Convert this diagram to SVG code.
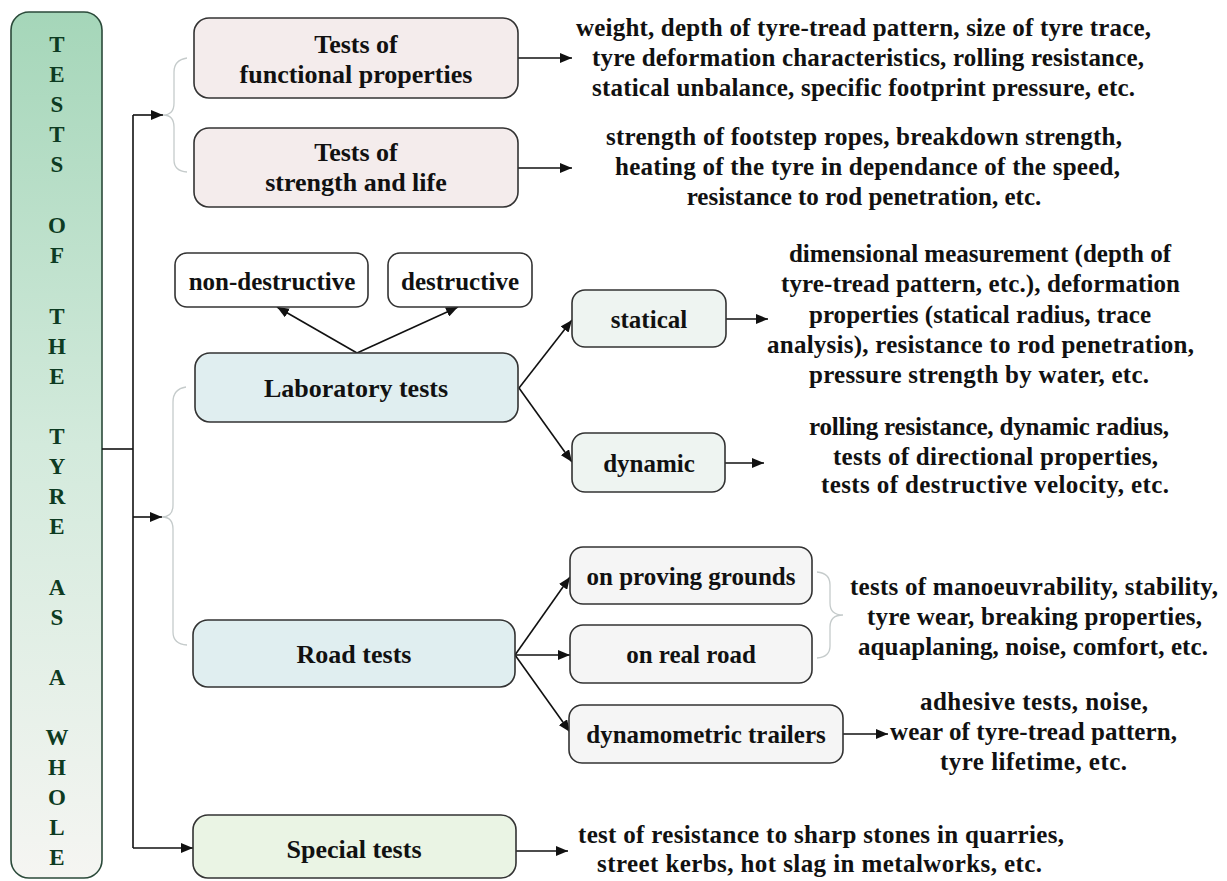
<svg xmlns="http://www.w3.org/2000/svg" width="1227" height="881" viewBox="0 0 1227 881">
<style>
text{font-family:"Liberation Serif","Times New Roman",serif;font-weight:bold;fill:#111}
.lbl{font-size:26px;text-anchor:middle}
.sm{font-size:25px;text-anchor:middle}
.txt{font-size:25px}
.txtm{font-size:25px;text-anchor:middle}
.vt{font-size:23px;text-anchor:middle;fill:#0d3b22}
.box{stroke:#333;stroke-width:1.6}
.pink{fill:#f4ecec}
.blue{fill:#e0eef0}
.green{fill:#eaf4e4}
.mint{fill:#eef4f1}
.grey{fill:#f5f5f5}
.white{fill:#ffffff}
.con{fill:none;stroke:#111;stroke-width:1.6}
.brace{fill:none;stroke:#c5cbcb;stroke-width:1.3}
</style>
<defs>
<linearGradient id="gMain" x1="0" y1="0" x2="0" y2="1">
<stop offset="0" stop-color="#a5d6b9"/>
<stop offset="0.5" stop-color="#d3eadc"/>
<stop offset="1" stop-color="#f5f5f2"/>
</linearGradient>
<marker id="arr" markerWidth="12" markerHeight="10" refX="12" refY="5" orient="auto" markerUnits="userSpaceOnUse">
<path d="M0,0 L12,5 L0,10 z" fill="#111"/>
</marker>
</defs>

<g id="main">
<rect x="11" y="12" width="91" height="866" rx="18" fill="url(#gMain)" stroke="#2b4a3a" stroke-width="1.6"/>
<text class="vt" x="57" y="52">T</text>
<text class="vt" x="57" y="82">E</text>
<text class="vt" x="57" y="112">S</text>
<text class="vt" x="57" y="142">T</text>
<text class="vt" x="57" y="172">S</text>
<text class="vt" x="57" y="233">O</text>
<text class="vt" x="57" y="263">F</text>
<text class="vt" x="57" y="324">T</text>
<text class="vt" x="57" y="354">H</text>
<text class="vt" x="57" y="384">E</text>
<text class="vt" x="57" y="444">T</text>
<text class="vt" x="57" y="474">Y</text>
<text class="vt" x="57" y="504">R</text>
<text class="vt" x="57" y="534">E</text>
<text class="vt" x="57" y="595">A</text>
<text class="vt" x="57" y="625">S</text>
<text class="vt" x="57" y="685">A</text>
<text class="vt" x="57" y="745">W</text>
<text class="vt" x="57" y="775">H</text>
<text class="vt" x="57" y="805">O</text>
<text class="vt" x="57" y="835">L</text>
<text class="vt" x="57" y="865">E</text>
</g>

<g id="connectors">
<path class="con" d="M102,449 H133"/>
<path class="con" d="M133,115 V848"/>
<path class="con" d="M133,115 H163" marker-end="url(#arr)"/>
<path class="con" d="M133,517 H162" marker-end="url(#arr)"/>
<path class="con" d="M133,848 H193" marker-end="url(#arr)"/>
<path class="con" d="M518,58 H572" marker-end="url(#arr)"/>
<path class="con" d="M518,168 H572" marker-end="url(#arr)"/>
<path class="con" d="M357,353 L277,307" marker-end="url(#arr)"/>
<path class="con" d="M357,353 L458,307" marker-end="url(#arr)"/>
<path class="con" d="M519,388 L572,320" marker-end="url(#arr)"/>
<path class="con" d="M519,388 L572,462" marker-end="url(#arr)"/>
<path class="con" d="M726,319 H768" marker-end="url(#arr)"/>
<path class="con" d="M725,463 H764" marker-end="url(#arr)"/>
<path class="con" d="M515,655 L570,577" marker-end="url(#arr)"/>
<path class="con" d="M515,655 H570" marker-end="url(#arr)"/>
<path class="con" d="M515,655 L570,732" marker-end="url(#arr)"/>
<path class="con" d="M843,734 H888" marker-end="url(#arr)"/>
<path class="con" d="M516,851 H568" marker-end="url(#arr)"/>
<path class="brace" d="M187,58 Q174,60 174,72 L174,103 Q174,115 163,115 Q174,115 174,127 L174,160 Q174,171 187,172"/>
<path class="brace" d="M186,387 Q173,389 173,402 L173,505 Q173,517 162,517 Q173,517 173,529 L173,632 Q173,644 187,645"/>
<path class="brace" d="M817,572 Q830,573 830,585 L830,603 Q830,615 843,615 Q830,615 830,627 L830,646 Q830,657 817,658"/>
</g>

<g id="functional">
<rect class="box pink" x="194" y="18" width="324" height="80" rx="15"/>
<text class="lbl" x="356" y="53">Tests of</text>
<text class="lbl" x="356" y="83">functional properties</text>
</g>

<g id="strength">
<rect class="box pink" x="194" y="128" width="324" height="79" rx="15"/>
<text class="lbl" x="356" y="161">Tests of</text>
<text class="lbl" x="356" y="191">strength and life</text>
</g>

<g id="nondestructive">
<rect class="box white" x="175" y="253" width="193" height="54" rx="12"/>
<text class="sm" x="272" y="290">non-destructive</text>
</g>

<g id="destructive">
<rect class="box white" x="388" y="253" width="144" height="54" rx="12"/>
<text class="sm" x="460" y="290">destructive</text>
</g>

<g id="laboratory">
<rect class="box blue" x="195" y="353" width="323" height="69" rx="15"/>
<text class="lbl" x="356" y="397">Laboratory tests</text>
</g>

<g id="statical">
<rect class="box mint" x="572" y="290" width="154" height="57" rx="13"/>
<text class="sm" x="649" y="328">statical</text>
</g>

<g id="dynamic">
<rect class="box mint" x="572" y="433" width="153" height="59" rx="13"/>
<text class="sm" x="649" y="472">dynamic</text>
</g>

<g id="road">
<rect class="box blue" x="193" y="620" width="322" height="67" rx="15"/>
<text class="lbl" x="354" y="663">Road tests</text>
</g>

<g id="proving">
<rect class="box grey" x="570" y="547" width="242" height="57" rx="13"/>
<text class="sm" x="691" y="585">on proving grounds</text>
</g>

<g id="realroad">
<rect class="box grey" x="570" y="625" width="242" height="58" rx="13"/>
<text class="sm" x="691" y="663">on real road</text>
</g>

<g id="trailers">
<rect class="box grey" x="569" y="705" width="274" height="58" rx="13"/>
<text class="sm" x="706" y="743">dynamometric trailers</text>
</g>

<g id="special">
<rect class="box green" x="193" y="815" width="323" height="63" rx="15"/>
<text class="lbl" x="354" y="858">Special tests</text>
</g>

<g id="text-functional">
<text class="txt" x="576" y="36" textLength="575">weight, depth of tyre-tread pattern, size of tyre trace,</text>
<text class="txt" x="592" y="66" textLength="552">tyre deformation characteristics, rolling resistance,</text>
<text class="txt" x="592" y="96" textLength="543">statical unbalance, specific footprint pressure, etc.</text>
</g>

<g id="text-strength">
<text class="txt" x="606" y="145" textLength="516">strength of footstep ropes, breakdown strength,</text>
<text class="txt" x="615" y="175" textLength="505">heating of the tyre in dependance of the speed,</text>
<text class="txtm" x="864" y="205">resistance to rod penetration, etc.</text>
</g>

<g id="text-statical">
<text class="txtm" x="980" y="262">dimensional measurement (depth of</text>
<text class="txt" x="781" y="292" textLength="399">tyre-tread pattern, etc.), deformation</text>
<text class="txt" x="809" y="323" textLength="342">properties (statical radius, trace</text>
<text class="txt" x="767" y="353" textLength="427">analysis), resistance to rod penetration,</text>
<text class="txt" x="809" y="383" textLength="340">pressure strength by water, etc.</text>
</g>

<g id="text-dynamic">
<text class="txt" x="809" y="435" textLength="360">rolling resistance, dynamic radius,</text>
<text class="txt" x="833" y="465" textLength="325">tests of directional properties,</text>
<text class="txt" x="821" y="493" textLength="348">tests of destructive velocity, etc.</text>
</g>

<g id="text-road">
<text class="txt" x="850" y="595" textLength="368">tests of manoeuvrability, stability,</text>
<text class="txt" x="867" y="625" textLength="335">tyre wear, breaking properties,</text>
<text class="txt" x="858" y="655" textLength="350">aquaplaning, noise, comfort, etc.</text>
</g>

<g id="text-trailers">
<text class="txt" x="920" y="710" textLength="228">adhesive tests, noise,</text>
<text class="txt" x="890" y="740" textLength="287">wear of tyre-tread pattern,</text>
<text class="txt" x="940" y="770" textLength="187">tyre lifetime, etc.</text>
</g>

<g id="text-special">
<text class="txt" x="578" y="843" textLength="486">test of resistance to sharp stones in quarries,</text>
<text class="txt" x="597" y="872" textLength="445">street kerbs, hot slag in metalworks, etc.</text>
</g>
</svg>
